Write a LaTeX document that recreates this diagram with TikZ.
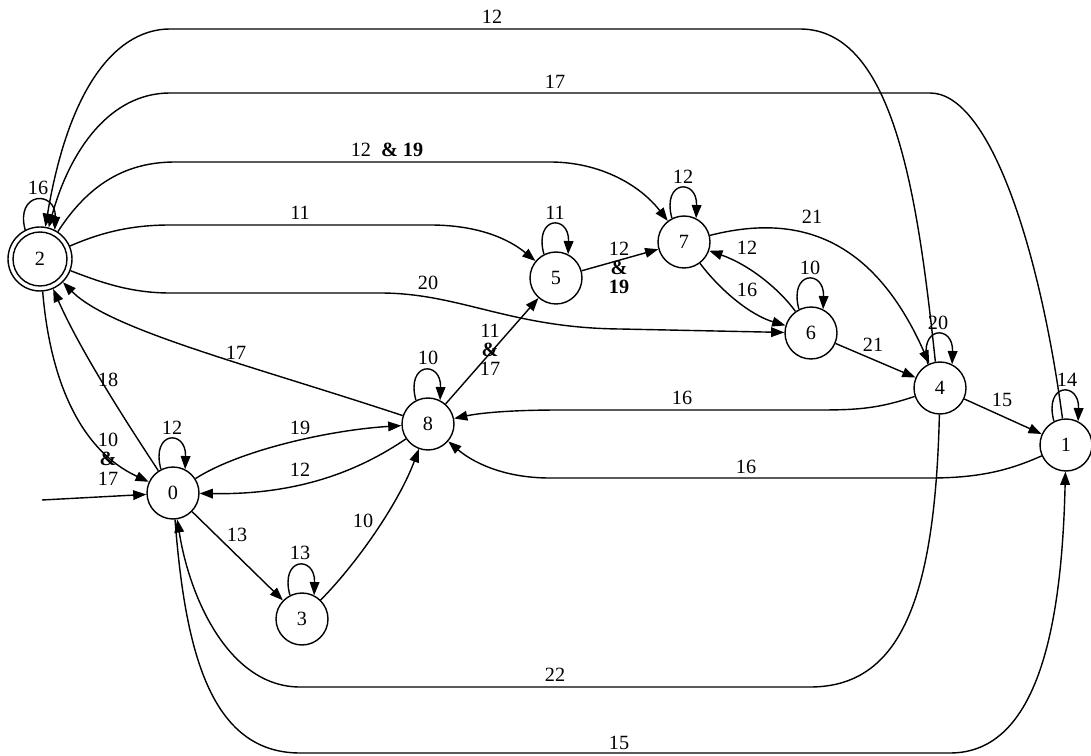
\documentclass[tikz,border=0pt]{standalone}
\usepackage{fontspec}
\setmainfont{Liberation Serif}
\usetikzlibrary{arrows.meta}
\begin{document}
\begin{tikzpicture}[x=0.02cm,y=-0.02cm,
  st/.style={circle,draw,line width=0.8pt,minimum size=1.04cm,inner sep=0pt,font=\fontsize{11.5}{13}\selectfont},
  lbl/.style={inner sep=0pt,align=center,font=\fontsize{11.5}{11}\selectfont},
  arr/.style={draw,line width=0.8pt,-{Triangle[length=7.5pt,width=5.5pt]}},
]
\useasboundingbox (0,0) rectangle (1091,756);
% states
\node[st,minimum size=1.28cm] (n2) at (40,259) {2};
\draw[line width=0.8pt] (n2.center) circle[radius=0.54cm];
\node[st] (n0) at (173,493) {0};
\node[st] (n1) at (1066,445) {1};
\node[st] (n3) at (302,619) {3};
\node[st] (n4) at (940,388) {4};
\node[st] (n5) at (556,278) {5};
\node[st] (n6) at (811,333) {6};
\node[st] (n7) at (684,242) {7};
\node[st] (n8) at (428,424) {8};
\coordinate (start) at (42,500);

% self loops
\foreach \n in {n0,n1,n2,n3,n4,n5,n6,n7,n8}{
  \draw[arr] (\n.117) .. controls +(105:0.8cm) and +(88:0.8cm) .. (\n.63);
}
\node[lbl] (l2) at (38,188) {16};
\node[lbl] (l0) at (172,428) {12};
\node[lbl] (l3) at (300,553) {13};
\node[lbl] (l8) at (428,358) {10};
\node[lbl] (l5) at (555,213) {11};
\node[lbl] (l7) at (683,177) {12};
\node[lbl] (l6) at (810,268) {10};
\node[lbl] (l4) at (938,323) {20};
\node[lbl] (l1) at (1067,380) {14};

% start
\draw[arr] (start) -- (n0);

% long top edges
\draw[arr] (n4.100) .. controls (918,200) and (895,29) .. (800,29) -- (170,29)
  .. controls (120,29) and (70,80) .. (n2);
\node[lbl] (t12) at (492,17) {12};
\draw[arr] (n1) .. controls (1040,250) and (990,93) .. (930,93) -- (170,93)
  .. controls (110,93) and (70,150) .. (n2);
\node[lbl] (t17) at (555,82) {17};
\draw[arr] (n2) .. controls (85,190) and (120,162) .. (175,162) -- (550,162)
  .. controls (600,162) and (640,185) .. (n7);
\node[lbl] (t1219) at (387,150) {12\ \ \textbf{\& 19}};
\draw[arr] (n2) .. controls (100,233) and (130,225) .. (170,225) -- (430,225)
  .. controls (480,225) and (510,240) .. (n5);
\node[lbl] (t11) at (300,213) {11};
\draw[arr] (n2) .. controls (100,282) and (130,293) .. (170,293) -- (380,293)
  .. controls (460,293) and (510,328) .. (620,329) -- (n6);
\node[lbl] (t20) at (428,283) {20};

% around 2 and 0
\draw[arr] (n8) .. controls (250,365) and (110,330) .. (n2);
\node[lbl] (t17b) at (236,353) {17};
\draw[arr] (n0) .. controls (125,420) and (80,350) .. (n2);
\node[lbl] (t18) at (108,380) {18};
\draw[arr] (n2) .. controls (50,380) and (80,450) .. (n0);
\node[lbl] (t1017) at (108,459) {10\\\textbf{\&}\\17};

% 0, 8, 3
\draw[arr] (n0) .. controls (240,450) and (330,430) .. (n8);
\node[lbl] (t19) at (300,428) {19};
\draw[arr] (n8) .. controls (360,470) and (300,495) .. (n0);
\node[lbl] (t12b) at (300,470) {12};
\draw[arr] (n0) -- (n3);
\node[lbl] (t13) at (237,535) {13};
\draw[arr] (n3) .. controls (360,560) and (400,500) .. (n8);
\node[lbl] (t10) at (363,521) {10};

% 8, 5, 7, 6
\draw[arr] (n8) -- (n5);
\node[lbl] (t1117) at (490,350) {11\\\textbf{\&}\\17};
\draw[arr] (n5) -- (n7);
\node[lbl] (t1219b) at (619,268) {12\\\textbf{\&}\\\textbf{19}};
\draw[arr] (n7) .. controls (720,290) and (750,315) .. (n6);
\node[lbl] (t16a) at (747,290) {16};
\draw[arr] (n6) .. controls (780,290) and (750,265) .. (n7);
\node[lbl] (t12c) at (747,248) {12};
\draw[arr] (n7) .. controls (790,215) and (870,230) .. (n4);
\node[lbl] (t21a) at (812,217) {21};
\draw[arr] (n6) -- (n4);
\node[lbl] (t21b) at (873,345) {21};

% 4, 1
\draw[arr] (n4) -- (n1);
\node[lbl] (t15a) at (1002,400) {15};
\draw[arr] (n4) .. controls (880,408) and (860,410) .. (820,410) -- (560,410)
  .. controls (510,410) and (480,413) .. (n8);
\node[lbl] (t16b) at (682,398) {16};
\draw[arr] (n1) .. controls (1010,470) and (980,478) .. (930,478) -- (550,478)
  .. controls (500,478) and (470,460) .. (n8);
\node[lbl] (t16c) at (746,467) {16};

% bottom edges
\draw[arr] (n4) .. controls (935,600) and (900,687) .. (810,687) -- (300,687)
  .. controls (230,687) and (190,600) .. (n0);
\node[lbl] (t22) at (555,675) {22};
\draw[arr] (n0) .. controls (185,650) and (210,753) .. (300,753) -- (950,753)
  .. controls (1040,753) and (1062,620) .. (n1);
\node[lbl] (t15b) at (619,743) {15};
\end{tikzpicture}
\end{document}
